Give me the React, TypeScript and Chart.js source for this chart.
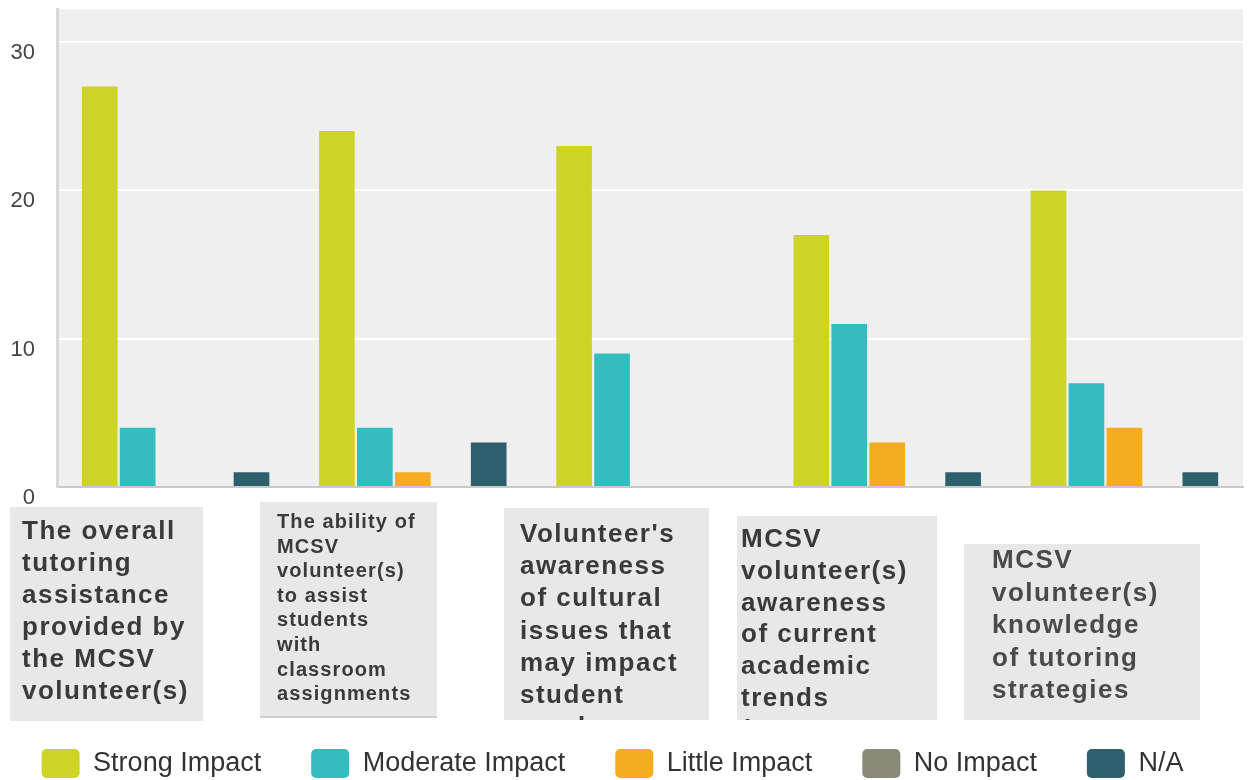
import React, { useEffect, useRef } from 'react';
import { Chart, registerables } from 'chart.js';

Chart.register(...registerables);

// ---------- data ----------
const CATEGORY_LINES: string[][] = [
  ['The overall', 'tutoring', 'assistance', 'provided by', 'the MCSV', 'volunteer(s)'],
  ['The ability of', 'MCSV', 'volunteer(s)', 'to assist', 'students', 'with', 'classroom', 'assignments'],
  ['Volunteer\'s', 'awareness', 'of cultural', 'issues that', 'may impact', 'student', 'needs'],
  ['MCSV', 'volunteer(s)', 'awareness', 'of current', 'academic', 'trends', '(Common Core)'],
  ['MCSV', 'volunteer(s)', 'knowledge', 'of tutoring', 'strategies'],
];
const CATEGORIES = CATEGORY_LINES.map((l) => l.join(' '));

const SERIES_NAMES = ['Strong Impact', 'Moderate Impact', 'Little Impact', 'No Impact', 'N/A'];
const STRONG_IMPACT = [27, 24, 23, 17, 20];
const MODERATE_IMPACT = [4, 4, 9, 11, 7];
const LITTLE_IMPACT = [0, 1, 0, 3, 4];
const NO_IMPACT = [0, 0, 0, 0, 0];
const NOT_APPLICABLE = [1, 3, 0, 1, 1];
const Y_TICKS = [0, 10, 20, 30];
const Y_MAX = 32.2;

// ---------- styles ----------
const SERIES_COLORS = ['#cdd426', '#33bdbf', '#f5ac1e', '#8a8a78', '#2e5f6c'];
const FONT = '"Liberation Sans", Arial, Helvetica, sans-serif';
const LEGEND_SHIFT = -9;

// layout of the grey category label boxes (relative to each category centre)
const LABEL_LAYOUT = [
  { dx: -165.6, top: 507, w: 193, bottom: 721, size: 26, lh: 32, padX: 12, base: 539, spacing: 1.5, color: '#3a3a3a', border: false },
  { dx: -152.8, top: 502, w: 177, bottom: 718, size: 20, lh: 24.6, padX: 17, base: 528, spacing: 1.1, color: '#3a3a3a', border: true },
  { dx: -146, top: 508, w: 205, bottom: 720, size: 26, lh: 32.2, padX: 16, base: 542, spacing: 1.5, color: '#3a3a3a', border: false },
  { dx: -150.2, top: 516, w: 200, bottom: 720, size: 26, lh: 31.8, padX: 4, base: 547, spacing: 1.5, color: '#3a3a3a', border: false },
  { dx: -160.4, top: 544, w: 236, bottom: 720, size: 26, lh: 32.5, padX: 28, base: 568, spacing: 1.5, color: '#4a4a4a', border: false },
];

const plotBackground = {
  id: 'plotBackground',
  beforeDraw(chart: any) {
    const { ctx, chartArea } = chart;
    ctx.save();
    ctx.fillStyle = '#efefef';
    ctx.fillRect(chartArea.left, chartArea.top, chartArea.right - chartArea.left, chartArea.bottom - chartArea.top);
    ctx.restore();
  },
};

const legendShift = {
  id: 'legendShift',
  afterLayout(chart: any) {
    if (chart.legend) {
      chart.legend.left += LEGEND_SHIFT;
      chart.legend.right += LEGEND_SHIFT;
    }
  },
};

const categoryBoxes = {
  id: 'categoryBoxes',
  afterDraw(chart: any) {
    const { ctx } = chart;
    const xs = chart.scales.x;
    CATEGORY_LINES.forEach((lines, i) => {
      const b = LABEL_LAYOUT[i];
      const left = xs.getPixelForValue(i) + b.dx;
      const h = b.bottom - b.top;
      ctx.save();
      ctx.fillStyle = '#e8e8e8';
      ctx.fillRect(left, b.top, b.w, h);
      if (b.border) {
        ctx.fillStyle = '#cfcfcf';
        ctx.fillRect(left, b.bottom - 2, b.w, 2);
      }
      ctx.beginPath();
      ctx.rect(left, b.top, b.w, h - (b.border ? 2 : 0));
      ctx.clip();
      ctx.font = `bold ${b.size}px ${FONT}`;
      (ctx as any).letterSpacing = `${b.spacing}px`;
      ctx.fillStyle = b.color;
      ctx.textAlign = 'left';
      ctx.textBaseline = 'alphabetic';
      lines.forEach((line, j) => {
        ctx.fillText(line, left + b.padX, b.base + j * b.lh);
      });
      ctx.restore();
    });
  },
};

export default function App() {
  const canvasRef = useRef<HTMLCanvasElement | null>(null);

  useEffect(() => {
    document.body.style.margin = '0';
    const canvas = canvasRef.current;
    if (!canvas) return;
    const seriesValues = [STRONG_IMPACT, MODERATE_IMPACT, LITTLE_IMPACT, NO_IMPACT, NOT_APPLICABLE];
    const chart = new Chart(canvas, {
      type: 'bar',
      data: {
        labels: CATEGORIES,
        datasets: SERIES_NAMES.map((name, i) => ({
          label: name,
          data: seriesValues[i],
          backgroundColor: SERIES_COLORS[i],
          borderWidth: 0,
          categoryPercentage: 0.8,
          barPercentage: 0.94,
        })),
      },
      options: {
        animation: false,
        responsive: true,
        maintainAspectRatio: false,
        layout: { padding: { top: 9.5, right: 5, left: 0, bottom: 0 } },
        plugins: {
          tooltip: { enabled: false },
          legend: {
            position: 'bottom',
            maxHeight: 81,
            labels: {
              boxWidth: 38,
              boxHeight: 29,
              useBorderRadius: true,
              borderRadius: 5,
              padding: 50,
              color: '#333333',
              font: { family: FONT, size: 27 },
            },
          },
        },
        scales: {
          x: {
            grid: { display: false },
            border: { display: true, color: '#c9c9c9', width: 2 },
            ticks: { display: false },
            afterFit: (scale: any) => {
              scale.height = 212;
            },
          },
          y: {
            min: 0,
            max: Y_MAX,
            grid: {
              color: (c: any) => (c.tick && c.tick.value === 0 ? 'rgba(0,0,0,0)' : '#ffffff'),
              lineWidth: 2,
              drawTicks: false,
            },
            border: { display: true, color: '#d9d9d9', width: 3 },
            afterBuildTicks: (scale: any) => {
              scale.ticks = Y_TICKS.map((v) => ({ value: v }));
            },
            afterFit: (scale: any) => {
              scale.width = 57;
              scale.paddingTop = 0;
              scale.paddingBottom = 0;
            },
            ticks: {
              padding: 22,
              labelOffset: 11,
              crossAlign: 'near',
              color: '#444444',
              font: { family: FONT, size: 22 },
            },
          },
        },
      },
      plugins: [plotBackground, legendShift, categoryBoxes],
    });
    return () => chart.destroy();
  }, []);

  return (
    <div style={{ width: 1248, height: 780, position: 'relative', overflow: 'hidden', background: '#ffffff' }}>
      <canvas ref={canvasRef} />
    </div>
  );
}
